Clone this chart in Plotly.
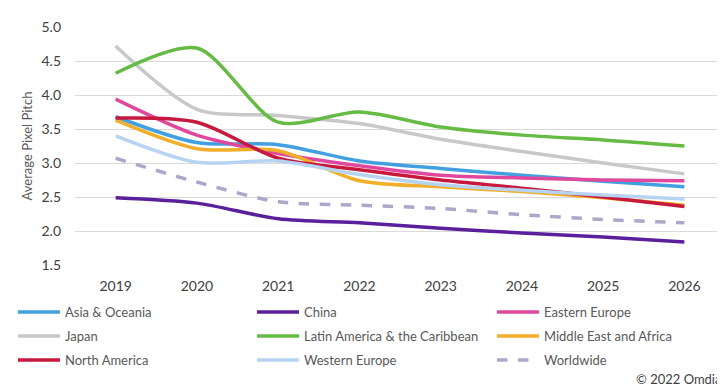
import plotly.graph_objects as go

years = ["2019", "2020", "2021", "2022", "2023", "2024", "2025", "2026"]

asia_oceania = [3.68, 3.30, 3.27, 3.03, 2.92, 2.82, 2.73, 2.65]
china = [2.49, 2.41, 2.18, 2.12, 2.04, 1.97, 1.91, 1.84]
eastern_europe = [3.94, 3.41, 3.14, 2.96, 2.82, 2.78, 2.75, 2.74]
japan = [4.72, 3.79, 3.70, 3.58, 3.35, 3.17, 3.00, 2.84]
latin_america = [4.32, 4.69, 3.60, 3.75, 3.53, 3.41, 3.34, 3.25]
middle_east_africa = [3.63, 3.21, 3.18, 2.74, 2.65, 2.58, 2.49, 2.38]
north_america = [3.66, 3.60, 3.07, 2.90, 2.75, 2.63, 2.50, 2.36]
western_europe = [3.40, 3.01, 3.03, 2.83, 2.68, 2.60, 2.53, 2.47]
worldwide = [3.07, 2.72, 2.43, 2.38, 2.33, 2.24, 2.17, 2.12]

y_ticks = [1.5, 2.0, 2.5, 3.0, 3.5, 4.0, 4.5, 5.0]

series = [
    ("Asia & Oceania", asia_oceania, "#42A0E0", "solid"),
    ("China", china, "#5A1F9B", "solid"),
    ("Eastern Europe", eastern_europe, "#E0489E", "solid"),
    ("Japan", japan, "#C8C8C8", "solid"),
    ("Latin America & the Caribbean", latin_america, "#66BB44", "solid"),
    ("Middle East and Africa", middle_east_africa, "#F0AE2A", "solid"),
    ("North America", north_america, "#C6193D", "solid"),
    ("Western Europe", western_europe, "#B6D3F2", "solid"),
    ("Worldwide", worldwide, "#ADA8CA", "dash"),
]

FONT = "Lato"
W, H = 725, 389
OFF = 8  # page body margin offset in the browser
# target plot area in screenshot pixels: x 75..725, y 27..265
PX0, PX1, PY0, PY1 = 75 - OFF, 725 - OFF, 27 - OFF, 265 - OFF
ML, MR, MT, MB = PX0, W - PX1, PY0, H - PY1
PW = PX1 - PX0
PH = PY1 - PY0

col_px = [13, 252, 492]
row_px = [312, 336, 360]


def px_to_paper_x(px):
    return (px - OFF - PX0) / PW


def px_to_paper_y(py):
    return (PY1 - (py - OFF)) / PH


fig = go.Figure()
legends = {}
for i, (name, vals, color, dash) in enumerate(series):
    leg_id = "legend" if i == 0 else f"legend{i + 1}"
    fig.add_trace(go.Scatter(
        x=years, y=vals, name=name, mode="lines",
        line=dict(color=color, width=3.5, dash=dash, shape="spline", smoothing=0.8),
        legend=leg_id,
    ))
    legends[leg_id] = dict(
        orientation="h", xanchor="left", yanchor="middle",
        x=px_to_paper_x(col_px[i % 3]), y=px_to_paper_y(row_px[i // 3]),
        itemwidth=42, font=dict(family=FONT, size=13, color="#595959"),
        bgcolor="rgba(0,0,0,0)",
    )

fig.update_layout(
    width=W, height=H,
    margin=dict(l=ML, r=MR, t=MT, b=MB, autoexpand=False),
    paper_bgcolor="white", plot_bgcolor="white",
    font=dict(family=FONT, size=14, color="#404040"),
    showlegend=True,
    xaxis=dict(
        type="category", range=[-0.5, 7.5], showgrid=False, showline=False,
        zeroline=False, ticks="", ticklabelstandoff=11,
        tickfont=dict(family=FONT, size=14, color="#404040"),
    ),
    yaxis=dict(
        range=[1.5, 5.0], tickvals=y_ticks, tickformat=".1f",
        showgrid=True, gridcolor="#D9D9D9", gridwidth=1,
        zeroline=False, showline=False, ticks="", ticklabelstandoff=13,
        tickfont=dict(family=FONT, size=14, color="#404040"),
        title=dict(text="Average Pixel Pitch", standoff=5,
                   font=dict(family=FONT, size=13, color="#595959")),
    ),
    annotations=[dict(
        text="© 2022 Omdia", xref="paper", yref="paper",
        x=px_to_paper_x(723), y=px_to_paper_y(379),
        xanchor="right", yanchor="middle", showarrow=False,
        font=dict(family=FONT, size=13, color="#404040"),
    )],
)
fig.update_layout(**legends)

fig.write_html("out.html")
